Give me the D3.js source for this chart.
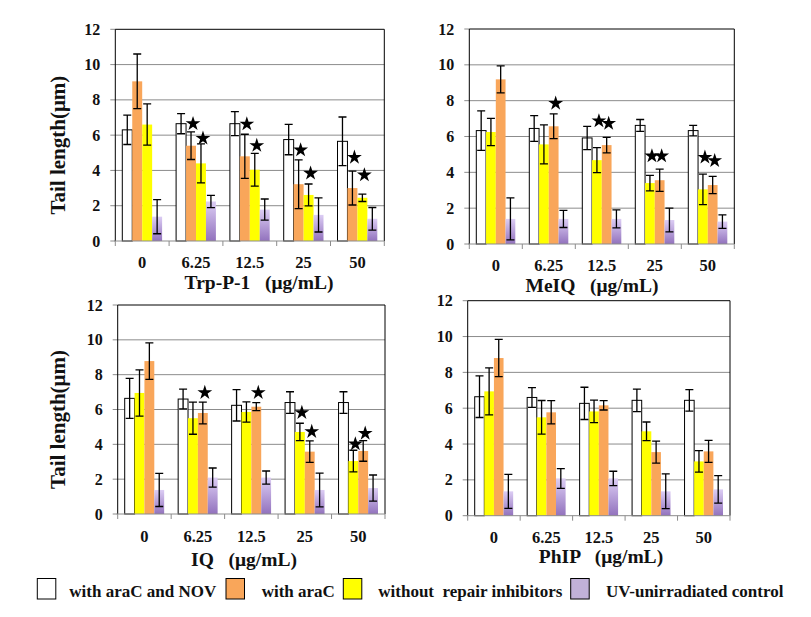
<!DOCTYPE html>
<html>
<head>
<meta charset="utf-8">
<script src="https://d3js.org/d3.v7.min.js"></script>
<style>
  body { margin: 0; background: #ffffff; }
  svg { display: block; }
  .font { font-family: "Liberation Serif", "Times New Roman", serif; font-weight: bold; fill: #111111; }
  .tick-label { font-size: 16px; }
  .cat-label { font-size: 16.5px; }
  .axis-title { font-size: 19.5px; white-space: pre; }
  .y-title { font-size: 21px; }
  .legend-text { font-size: 17px; white-space: pre; }
  .grid { stroke: #8c8c8c; stroke-width: 1; }
  .frame { fill: none; stroke: #000000; stroke-width: 1; }
  .errbar { stroke: #000000; stroke-width: 1.3; fill: none; }
</style>
</head>
<body>
<script>
const doses = ["0", "6.25", "12.5", "25", "50"];
const compounds = ["Trp-P-1", "MeIQ", "IQ", "PhIP"];
const yTicks = [0, 2, 4, 6, 8, 10, 12];
const seriesKeys = ["nov", "arac", "none", "uv"];
const seriesNames = ["with araC and NOV", "with araC", "without  repair inhibitors", "UV-unirradiated control"];
const seriesColors = ["#ffffff", "#f9a65a", "#ffff00", "url(#uvGrad)"];
const legendColors = ["#ffffff", "#f9a65a", "#ffff00", "#c1b1d8"];

// bar order per panel
const barOrder = [
  ["nov", "arac", "none", "uv"],
  ["nov", "none", "arac", "uv"],
  ["nov", "none", "arac", "uv"],
  ["nov", "none", "arac", "uv"]
];

// means (µm) per panel
const trpMean = { nov: [6.3, 6.65, 6.65, 5.75, 5.65], arac: [9.05, 5.4, 4.8, 3.22, 3.0], none: [6.6, 4.4, 4.04, 2.61, 2.45], uv: [1.38, 2.24, 1.78, 1.48, 1.26] };
const trpSd = { nov: [0.83, 0.57, 0.68, 0.86, 1.38], arac: [1.55, 0.78, 1.25, 1.38, 0.96], none: [1.17, 1.1, 0.93, 0.62, 0.21], uv: [0.97, 0.35, 0.6, 0.97, 0.64] };

const meiqMean = { nov: [6.33, 6.45, 5.92, 6.62, 6.33], arac: [9.19, 6.57, 5.52, 3.56, 3.29], none: [6.25, 5.56, 4.68, 3.4, 3.05], uv: [1.4, 1.4, 1.4, 1.34, 1.25] };
const meiqSd = { nov: [1.1, 0.72, 0.65, 0.33, 0.29], arac: [0.75, 0.69, 0.43, 0.62, 0.48], none: [0.76, 1.09, 0.7, 0.43, 0.85], uv: [1.17, 0.48, 0.5, 0.66, 0.38] };

const iqMean = { nov: [6.64, 6.6, 6.24, 6.4, 6.4], arac: [8.78, 5.8, 6.16, 3.58, 3.62], none: [6.95, 5.5, 5.86, 4.71, 3.04], uv: [1.38, 2.09, 2.09, 1.38, 1.49] };
const iqSd = { nov: [1.15, 0.57, 0.9, 0.62, 0.62], arac: [1.05, 0.62, 0.23, 0.62, 0.59], none: [1.33, 0.92, 0.58, 0.5, 0.62], uv: [0.95, 0.55, 0.38, 0.97, 0.75] };

const phipMean = { nov: [6.64, 6.6, 6.27, 6.44, 6.44], arac: [8.8, 5.77, 6.16, 3.55, 3.59], none: [6.94, 5.49, 5.82, 4.71, 3.03], uv: [1.36, 2.08, 2.08, 1.36, 1.47] };
const phipSd = { nov: [1.16, 0.55, 0.9, 0.63, 0.6], arac: [1.04, 0.65, 0.26, 0.61, 0.61], none: [1.31, 0.94, 0.63, 0.52, 0.6], uv: [0.95, 0.55, 0.4, 0.97, 0.77] };

const means = [trpMean, meiqMean, iqMean, phipMean];
const sds = [trpSd, meiqSd, iqSd, phipSd];

// significance stars: [dose index, series, height in µm]
const stars = [
  [[1, "arac", 6.65], [1, "none", 5.82], [2, "arac", 6.63], [2, "none", 5.41], [3, "arac", 5.16], [3, "none", 3.84], [4, "arac", 4.74], [4, "none", 3.74]],
  [[1, "arac", 7.85], [2, "none", 6.87], [2, "arac", 6.73], [3, "none", 4.91], [3, "arac", 4.91], [4, "none", 4.84], [4, "arac", 4.65]],
  [[1, "arac", 6.97], [2, "arac", 6.97], [3, "none", 5.82], [3, "arac", 4.73], [4, "none", 4.02], [4, "arac", 4.63]],
  []
];

const W = 811, H = 617;
const panels = [
  { left: 115.3, right: 384.3, top: 29.3, bottom: 241, labelY: 268, titleX: 259, titleY: 289.3, yTitle: true },
  { left: 469.3, right: 734.3, top: 29, bottom: 244, labelY: 270.5, titleX: 592, titleY: 291.7, yTitle: false },
  { left: 117.7, right: 385, top: 305, bottom: 514, labelY: 541.5, titleX: 244, titleY: 566, yTitle: true },
  { left: 467.7, right: 730, top: 300.7, bottom: 515.7, labelY: 543, titleX: 601, titleY: 563, yTitle: false }
];

const svg = d3.select("body").append("svg")
  .attr("width", W)
  .attr("height", H);

const defs = svg.append("defs");
const grad = defs.append("linearGradient")
  .attr("id", "uvGrad")
  .attr("x1", 0).attr("y1", 0).attr("x2", 0).attr("y2", 1);
grad.append("stop").attr("offset", "0%").attr("stop-color", "#dccdf4");
grad.append("stop").attr("offset", "100%").attr("stop-color", "#9272bd");

const starPath = d3.symbol().type(d3.symbolStar).size(68)();

panels.forEach(function(p, pi) {
  const g = svg.append("g");
  const y = d3.scaleLinear().domain([0, 12]).range([p.bottom, p.top]);
  const x = d3.scaleBand().domain(doses).range([p.left, p.right]);
  const inner = d3.scaleBand().domain(barOrder[pi]).range([7, x.bandwidth() - 7]);

  // grid lines
  g.selectAll(".grid")
    .data(yTicks.filter(function(t) { return t > 0 && t < 12; }))
    .enter().append("line")
    .attr("class", "grid")
    .attr("x1", p.left).attr("x2", p.right)
    .attr("y1", function(d) { return y(d); })
    .attr("y2", function(d) { return y(d); });

  // y tick marks
  g.selectAll(".ytick")
    .data(yTicks)
    .enter().append("line")
    .attr("stroke", "#8c8c8c")
    .attr("x1", p.left - 5).attr("x2", p.left)
    .attr("y1", function(d) { return y(d); })
    .attr("y2", function(d) { return y(d); });

  g.selectAll(".ylabel")
    .data(yTicks)
    .enter().append("text")
    .attr("class", "font tick-label")
    .attr("text-anchor", "end")
    .attr("x", p.left - 15)
    .attr("y", function(d) { return y(d) + 5.5; })
    .text(function(d) { return d; });

  // bars
  const rows = [];
  doses.forEach(function(dose, di) {
    barOrder[pi].forEach(function(k) {
      rows.push({ dose: dose, key: k, mean: means[pi][k][di], sd: sds[pi][k][di] });
    });
  });

  g.selectAll(".bar")
    .data(rows)
    .enter().append("rect")
    .attr("x", function(d) { return x(d.dose) + inner(d.key); })
    .attr("width", inner.bandwidth())
    .attr("y", function(d) { return y(d.mean); })
    .attr("height", function(d) { return y(0) - y(d.mean); })
    .attr("fill", function(d) { return seriesColors[seriesKeys.indexOf(d.key)]; })
    .attr("stroke", function(d) { return d.key === "nov" ? "#000000" : "none"; })
    .attr("stroke-width", 1);

  // error bars
  g.selectAll(".eb")
    .data(rows)
    .enter().append("path")
    .attr("class", "errbar")
    .attr("d", function(d) {
      const cx = x(d.dose) + inner(d.key) + inner.bandwidth() / 2;
      const y1 = y(d.mean + d.sd), y0 = y(Math.max(0, d.mean - d.sd));
      return "M" + (cx - 4) + "," + y1 + "H" + (cx + 4) +
        "M" + cx + "," + y1 + "V" + y0 +
        "M" + (cx - 4) + "," + y0 + "H" + (cx + 4);
    });

  // frame and axes
  g.append("path")
    .attr("class", "frame")
    .attr("d", "M" + p.left + "," + p.bottom + "V" + p.top + "H" + p.right + "V" + p.bottom);
  g.append("line")
    .attr("stroke", "#8c8c8c")
    .attr("x1", p.left - 1).attr("x2", p.right)
    .attr("y1", p.bottom).attr("y2", p.bottom);

  const bounds = doses.map(function(d) { return x(d); }).concat([p.right]);
  g.selectAll(".xtick")
    .data(bounds)
    .enter().append("line")
    .attr("stroke", "#8c8c8c")
    .attr("x1", function(d) { return d; }).attr("x2", function(d) { return d; })
    .attr("y1", p.bottom).attr("y2", p.bottom + 5);

  g.selectAll(".xlabel")
    .data(doses)
    .enter().append("text")
    .attr("class", "font cat-label")
    .attr("text-anchor", "middle")
    .attr("x", function(d) { return x(d) + x.bandwidth() / 2; })
    .attr("y", p.labelY)
    .text(function(d) { return d; });

  g.append("text")
    .attr("class", "font axis-title")
    .attr("text-anchor", "middle")
    .attr("x", p.titleX)
    .attr("y", p.titleY)
    .text(compounds[pi] + "   (\u03bcg/mL)");

  if (p.yTitle) {
    const cy = (p.top + p.bottom) / 2 + 10;
    g.append("text")
      .attr("class", "font y-title")
      .attr("text-anchor", "middle")
      .attr("transform", "translate(" + 65 + "," + cy + ") rotate(-90)")
      .text("Tail length(\u03bcm)");
  }

  // stars
  g.selectAll(".star")
    .data(stars[pi])
    .enter().append("path")
    .attr("d", starPath)
    .attr("fill", "#000000")
    .attr("transform", function(d) {
      const cx = x(doses[d[0]]) + inner(d[1]) + inner.bandwidth() / 2 + 2;
      return "translate(" + cx + "," + y(d[2]) + ")";
    });
});

// legend
const legendBoxX = [37.3, 226, 343.3, 570.7];
const legendTextX = [69.3, 261.7, 378.3, 606];
const legend = svg.append("g");
seriesNames.forEach(function(name, i) {
  legend.append("rect")
    .attr("x", legendBoxX[i]).attr("y", 578.5)
    .attr("width", 18.5).attr("height", 20.5)
    .attr("fill", legendColors[i])
    .attr("stroke", "#000000")
    .attr("stroke-width", 1);
  legend.append("text")
    .attr("class", "font legend-text")
    .attr("x", legendTextX[i])
    .attr("y", 596.5)
    .text(name);
});
</script>
</body>
</html>
